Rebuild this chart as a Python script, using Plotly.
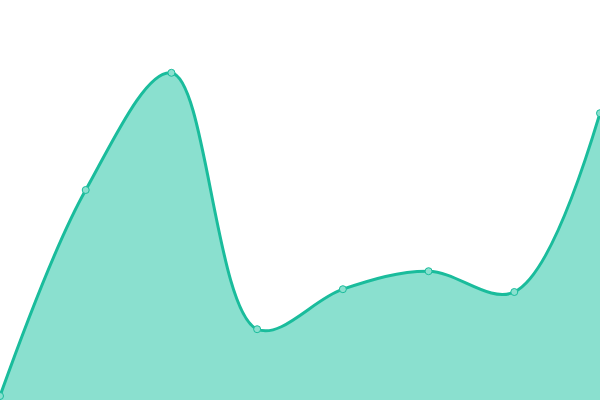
import plotly.graph_objects as go

labels = ["1", "2", "3", "4", "5", "6", "7", "8"]
values = [1, 52.5, 81.8, 17.7, 27.7, 32.2, 27, 71.7]

line_color = "#1ABC9C"
fill_color = "#8AE0CF"

fig = go.Figure()
fig.add_trace(go.Scatter(
    x=labels, y=values,
    mode="lines+markers",
    line=dict(shape="spline", smoothing=1, color=line_color, width=3),
    fill="tozeroy", fillcolor=fill_color,
    marker=dict(size=7, color=fill_color, line=dict(color=line_color, width=1)),
))

fig.update_layout(
    width=600, height=400,
    margin=dict(l=0, r=0, t=0, b=0),
    paper_bgcolor="white", plot_bgcolor="white",
    showlegend=False,
    xaxis=dict(visible=False, range=[0, 7]),
    yaxis=dict(visible=False, range=[0, 100]),
)

# drop the page's default body margin so the chart fills the window
fig.write_html("out.html", config={"displayModeBar": False},
               post_script="document.body.style.margin='0';")
